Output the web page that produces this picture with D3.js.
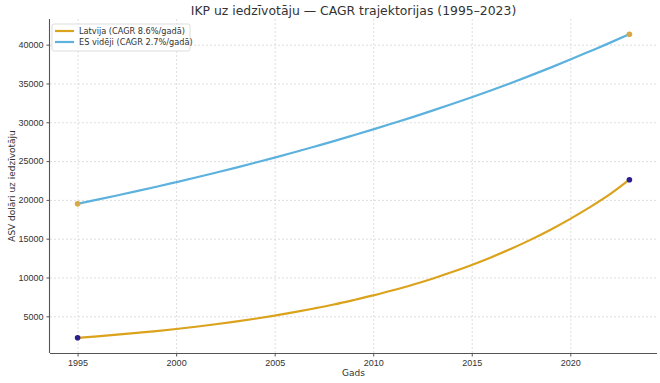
<!DOCTYPE html>
<html>
<head>
<meta charset="utf-8">
<script src="https://cdn.jsdelivr.net/npm/d3@7"></script>
<style>
  body { margin: 0; background: #fff; }
  svg { font-family: "DejaVu Sans", sans-serif; display: block; }
  .grid line { stroke: #d0d0d0; stroke-dasharray: 2,2; stroke-width: 0.7; }
  .grid path { display: none; }
  .axis path, .axis line { stroke: #555; }
  .axis text { fill: #333; font-size: 9px; }
</style>
</head>
<body>
<svg id="chart"></svg>
<script>
const years = d3.range(1995, 2024);
const latvia = [2230, 2420, 2630, 2860, 3100, 3370, 3660, 3980, 4320, 4690,
  5090, 5530, 6010, 6520, 7090, 7690, 8360, 9070, 9850, 10700,
  11620, 12620, 13700, 14880, 16160, 17550, 19060, 20700, 22600];
const euAvg = [19500, 20030, 20570, 21120, 21690, 22280, 22880, 23500, 24130, 24780,
  25450, 26140, 26850, 27570, 28320, 29080, 29870, 30670, 31500, 32350,
  33220, 34120, 35070, 36040, 37040, 38080, 39150, 40230, 41350];
const seriesNames = ["Latvija (CAGR 8.6%/gadā)", "ES vidēji (CAGR 2.7%/gadā)"];
const lineColors = ["#dba21c", "#5cb1dd"];
const dotColors = ["#2a1d8c", "#d8a844"];
const xTicks = [1995, 2000, 2005, 2010, 2015, 2020];
const yTicks = [5000, 10000, 15000, 20000, 25000, 30000, 35000, 40000];

const width = 660, height = 383;
const margin = { top: 19, right: 3, bottom: 30, left: 50 };
const innerWidth = width - margin.left - margin.right;
const innerHeight = height - margin.top - margin.bottom;

const svg = d3.select("#chart").attr("width", width).attr("height", height);
const g = svg.append("g").attr("transform", `translate(${margin.left},${margin.top})`);

const series = [latvia, euAvg].map((vals, i) => ({
  name: seriesNames[i],
  values: years.map((y, j) => ({ year: y, value: vals[j] }))
}));

// matplotlib style 5% margins
const xExt = d3.extent(years);
const xPad = (xExt[1] - xExt[0]) * 0.05;
const allVals = latvia.concat(euAvg);
const yExt = d3.extent(allVals);
const yPad = (yExt[1] - yExt[0]) * 0.05;

const xScale = d3.scaleLinear().domain([xExt[0] - xPad, xExt[1] + xPad]).range([0, innerWidth]);
const yScale = d3.scaleLinear().domain([yExt[0] - yPad, yExt[1] + yPad]).range([innerHeight, 0]);

// grid
g.append("g")
  .attr("class", "grid")
  .attr("transform", `translate(0,${innerHeight})`)
  .call(d3.axisBottom(xScale).tickValues(xTicks).tickSize(-innerHeight).tickFormat(""));
g.append("g")
  .attr("class", "grid")
  .call(d3.axisLeft(yScale).tickValues(yTicks).tickSize(-innerWidth).tickFormat(""));

// lines
const lineGenerator = d3.line()
  .x((d) => xScale(d.year))
  .y((d) => yScale(d.value))
  .curve(d3.curveMonotoneX);

series.forEach((s, i) => {
  g.append("path")
    .datum(s.values)
    .attr("fill", "none")
    .attr("stroke", lineColors[i])
    .attr("stroke-width", 2.2)
    .attr("d", lineGenerator);

  const ends = [s.values[0], s.values[s.values.length - 1]];
  g.selectAll(null)
    .data(ends)
    .enter()
    .append("circle")
    .attr("cx", (d) => xScale(d.year))
    .attr("cy", (d) => yScale(d.value))
    .attr("r", 2.8)
    .attr("fill", dotColors[i]);
});

// axes
const xAxis = g.append("g")
  .attr("class", "axis")
  .attr("transform", `translate(0,${innerHeight})`)
  .call(d3.axisBottom(xScale).tickValues(xTicks).tickFormat(d3.format("d")).tickSize(3.5).tickPadding(3).tickSizeOuter(0));
xAxis.select(".domain").attr("d", `M0,0.5H${innerWidth}`).attr("stroke-width", 1.1);

const yAxis = g.append("g")
  .attr("class", "axis")
  .call(d3.axisLeft(yScale).tickValues(yTicks).tickFormat(d3.format("d")).tickSize(3.5).tickPadding(3).tickSizeOuter(0));
yAxis.select(".domain").attr("d", `M-0.5,0V${innerHeight}`).attr("stroke-width", 1.1);

// labels
svg.append("text")
  .attr("x", margin.left + innerWidth / 2)
  .attr("y", 15)
  .attr("text-anchor", "middle")
  .attr("font-size", 12.4)
  .attr("fill", "#333")
  .text("IKP uz iedzīvotāju — CAGR trajektorijas (1995–2023)");

svg.append("text")
  .attr("x", margin.left + innerWidth / 2)
  .attr("y", 376)
  .attr("text-anchor", "middle")
  .attr("font-size", 9)
  .attr("fill", "#333")
  .text("Gads");

svg.append("text")
  .attr("transform", `translate(15,${margin.top + innerHeight / 2}) rotate(-90)`)
  .attr("text-anchor", "middle")
  .attr("font-size", 9)
  .attr("fill", "#333")
  .text("ASV dolāri uz iedzīvotāju");

// legend
const legend = g.append("g").attr("transform", "translate(2,5)");
legend.append("rect")
  .attr("width", 138)
  .attr("height", 27)
  .attr("rx", 2)
  .attr("fill", "#fff")
  .attr("fill-opacity", 0.85)
  .attr("stroke", "#ddd");
seriesNames.forEach((name, i) => {
  const row = legend.append("g").attr("transform", `translate(3,${7 + i * 11})`);
  row.append("line")
    .attr("x1", 0).attr("x2", 19)
    .attr("stroke", lineColors[i])
    .attr("stroke-width", 2.2);
  row.append("text")
    .attr("x", 24)
    .attr("dy", "0.35em")
    .attr("font-size", 8.2)
    .attr("fill", "#333")
    .text(name);
});
</script>
</body>
</html>
